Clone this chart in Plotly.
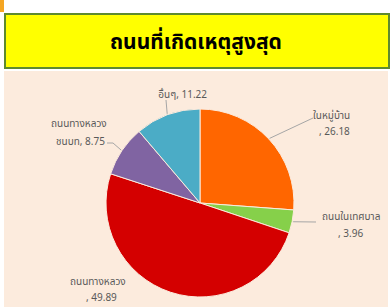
import math
import plotly.graph_objects as go

title_text = "ถนนที่เกิดเหตุสูงสุด"
categories = ["ในหมู่บ้าน", "ถนนในเทศบาล", "ถนนทางหลวง", "ถนนทางหลวงชนบท", "อื่นๆ"]
values = [26.18, 3.96, 49.89, 8.75, 11.22]
colors = ["#FF6600", "#86D04A", "#D40000", "#8064A2", "#4BACC6"]
# each data label split into its displayed lines
label_lines = [
    ["ในหมู่บ้าน", ", 26.18"],
    ["ถนนในเทศบาล", ", 3.96"],
    ["ถนนทางหลวง", ", 49.89"],
    ["ถนนทางหลวง", "ชนบท, 8.75"],
    ["อื่นๆ, 11.22"],
]

W, H = 391, 307
CX, CY, R = 200, 203, 94
# label line centres (px from top-left) and leader-line elbow points
label_pos = [[(331, 116), (334, 132)], [(351, 217), (350, 234)], [(98, 282), (101, 298)],
             [(79, 124), (80, 142)], [(182, 95)]]
leader_end = [[(313, 118)], [(316, 222)], None, [(113, 143), (107, 143)], [(166, 100)]]

fig = go.Figure()
fig.add_trace(go.Pie(
    labels=categories, values=values, sort=False, direction="clockwise", rotation=0,
    marker=dict(colors=colors, line=dict(color="#FCEBDD", width=1)),
    textinfo="none", hoverinfo="label+value", showlegend=False,
    domain=dict(x=[(CX - R) / W, (CX + R) / W], y=[(H - CY - R) / H, (H - CY + R) / H]),
))

def px(x, y):
    return x / W, 1 - y / H

shapes = [
    dict(type="rect", xref="paper", yref="paper", x0=0, x1=1, y0=0, y1=1,
         fillcolor="white", line=dict(width=0), layer="below"),
    dict(type="rect", xref="paper", yref="paper", x0=0, x1=4 / W, y0=1 - 12 / H, y1=1,
         fillcolor="#F5A623", line=dict(width=0), layer="below"),
    dict(type="rect", xref="paper", yref="paper", x0=4 / W, x1=388 / W, y0=0, y1=1 - 71 / H,
         fillcolor="#FCEBDD", line=dict(width=0), layer="below"),
    dict(type="rect", xref="paper", yref="paper", x0=5 / W, x1=389 / W, y0=1 - 68 / H, y1=1 - 14 / H,
         fillcolor="#FFFF00", line=dict(color="#5E8A2E", width=2), layer="below"),
]

total = sum(values)
cum = 0.0
for i, v in enumerate(values):
    mid = (cum + v / 2) / total * 2 * math.pi
    cum += v
    if leader_end[i] is None:
        continue
    ex = CX + (R + 1) * math.sin(mid)
    ey = CY - (R + 1) * math.cos(mid)
    pts = [(ex, ey)] + leader_end[i]
    path = "M " + " L ".join(f"{px(a, b)[0]} {px(a, b)[1]}" for a, b in pts)
    shapes.append(dict(type="path", xref="paper", yref="paper", path=path,
                       line=dict(color="#A6A6A6", width=1)))

font_fam = "Noto Sans Thai, Noto Sans, sans-serif"
annotations = [dict(text=f"<b>{title_text}</b>", xref="paper", yref="paper", x=196 / W, y=1 - 42 / H,
                    xanchor="center", yanchor="middle",
                    showarrow=False, font=dict(size=21, color="black", family=font_fam))]
for lines, poss in zip(label_lines, label_pos):
    for t, (lx, ly) in zip(lines, poss):
        x, y = px(lx, ly)
        annotations.append(dict(text=t, xref="paper", yref="paper", x=x, y=y, showarrow=False,
                                xanchor="center", yanchor="middle",
                                font=dict(size=10, color="#595959", family=font_fam)))

fig.update_layout(width=W, height=H, margin=dict(l=0, r=0, t=0, b=0),
                  paper_bgcolor="white", plot_bgcolor="white",
                  shapes=shapes, annotations=annotations)
fig.write_html("out.html", config={"displayModeBar": False},
               post_script="document.body.style.margin='0';document.body.style.overflow='hidden';")
